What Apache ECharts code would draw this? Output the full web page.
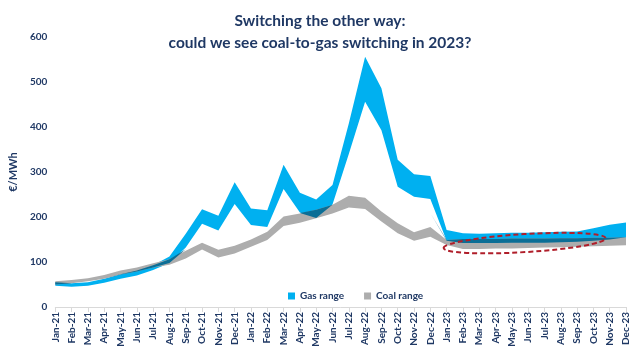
<!DOCTYPE html>
<html>
<head>
<meta charset="utf-8">
<script src="https://cdn.jsdelivr.net/npm/echarts@6/dist/echarts.min.js"></script>
<style>
html,body{margin:0;padding:0;background:#fff;}
#c{width:640px;height:362px;}
</style>
</head>
<body>
<div id="c"></div>
<script>
const months = ['Jan-21','Feb-21','Mar-21','Apr-21','May-21','Jun-21','Jul-21','Aug-21','Sep-21','Oct-21','Nov-21','Dec-21',
  'Jan-22','Feb-22','Mar-22','Apr-22','May-22','Jun-22','Jul-22','Aug-22','Sep-22','Oct-22','Nov-22','Dec-22',
  'Jan-23','Feb-23','Mar-23','Apr-23','May-23','Jun-23','Jul-23','Aug-23','Sep-23','Oct-23','Nov-23','Dec-23'];
const gasHigh = [55,53,55,63,73,81,93,112,163,217,203,277, 219,215,316,254,239,271,408,556,486,327,295,291, 171,164,163,164,165,165,166,167,168,175,183,188];
const gasLow  = [47,45,47,54,63,70,82,98,132,185,170,229, 182,178,262,210,198,228,340,456,393,267,245,240, 147,142,142,142,143,143,143,144,145,147,150,152];
const coalHigh = [57,60,64,71,81,88,97,106,125,143,127,136, 150,167,201,208,216,227,247,243,212,186,166,178, 149,151,151,151,152,152,152,153,153,154,154,155];
const coalLow  = [50,53,57,63,72,79,88,94,108,128,110,119, 134,149,180,187,197,208,221,218,190,164,147,156, 138,129,129,130,130,131,132,133,134,135,136,137];
const yTicks = [0,100,200,300,400,500,600];

const NAVY = '#1F3864';
const FONT = 'Lato';

// Derived arrays for stacked area ranges
const gasSpan = gasHigh.map((h,i)=>h-gasLow[i]);
const coalSpan = coalHigh.map((h,i)=>h-coalLow[i]);
const ovBase = [], ovSpan = [];
for (let i=0;i<months.length;i++){
  const lo = Math.max(gasLow[i], coalLow[i]);
  const hi = Math.min(gasHigh[i], coalHigh[i]);
  if (hi >= lo) { ovBase.push(lo); ovSpan.push(hi-lo); }
  else { ovBase.push((lo+hi)/2); ovSpan.push(0); }
}

function band(name, stack, data, color, showArea){
  return {
    name: name, type:'line', stack: stack, data: data,
    symbol:'none', silent:true,
    lineStyle:{width:0, opacity:0},
    areaStyle: showArea ? {color: color, opacity:1} : {opacity:0},
    itemStyle:{color: color},
    emphasis:{disabled:true}
  };
}

const chart = echarts.init(document.getElementById('c'), null, {renderer:'canvas'});
chart.setOption({
  animation:false,
  backgroundColor:'#ffffff',
  textStyle:{fontFamily:FONT},
  title:{
    text:'Switching the other way:\ncould we see coal-to-gas switching in 2023?',
    left:'center', top:5,
    textStyle:{fontFamily:FONT, fontSize:15.5, fontWeight:'bold', color:NAVY, lineHeight:22}
  },
  legend:{
    data:['Gas range','Coal range'],
    left:283, top:286,
    icon:'rect', itemWidth:7, itemHeight:7, itemGap:20,
    textStyle:{fontFamily:FONT, fontSize:10, fontWeight:'bold', color:NAVY}
  },
  grid:{left:48, right:14, top:37, bottom:55, containLabel:false},
  xAxis:{
    type:'category', data:months, boundaryGap:false,
    axisLine:{lineStyle:{color:'#D9D9D9'}},
    axisTick:{show:true, interval:0, lineStyle:{color:'#D9D9D9'}},
    axisLabel:{interval:0, rotate:90, fontFamily:FONT, fontSize:10, fontWeight:'bold', color:NAVY, margin:5}
  },
  yAxis:{
    type:'value', min:0, max:600, interval:100,
    name:'€/MWh', nameLocation:'middle', nameGap:33,
    nameTextStyle:{fontFamily:FONT, fontSize:11, fontWeight:'bold', color:NAVY},
    axisLine:{show:false}, axisTick:{show:false}, splitLine:{show:false},
    axisLabel:{fontFamily:FONT, fontSize:10, fontWeight:'bold', color:NAVY, margin:8,
      formatter:v=> yTicks.indexOf(v)>=0 ? String(v) : ''}
  },
  series:[
    band('gasBase','gas',gasLow,'#00B0F0',false),
    band('Gas range','gas',gasSpan,'#00B0F0',true),
    band('coalBase','coal',coalLow,'#ADADAD',false),
    band('Coal range','coal',coalSpan,'#ADADAD',true),
    band('ovBase','ov',ovBase,'#0B6E96',false),
    band('overlap','ov',ovSpan,'#0B6E96',true)
  ]
});

// Dashed ellipse annotation around the 2023 overlap, anchored to data coords
const pL = chart.convertToPixel({gridIndex:0}, [months[24], 131]);
const pR = chart.convertToPixel({gridIndex:0}, [months[34], 153]);
const pLx = pL[0]-3, pRx = pR[0]-4;
const cx = (pLx+pRx)/2, cy = (pL[1]+pR[1])/2;
const rx = Math.hypot(pRx-pLx, pR[1]-pL[1])/2;
const ang = Math.atan2(pR[1]-pL[1], pRx-pLx);
chart.setOption({
  graphic:[{
    type:'ellipse', x:cx, y:cy, rotation:-ang, silent:true, z:100,
    shape:{cx:0, cy:0, rx:rx, ry:9},
    style:{fill:null, stroke:'#B01E2A', lineWidth:2, lineDash:[5,3]}
  }]
});
</script>
</body>
</html>
